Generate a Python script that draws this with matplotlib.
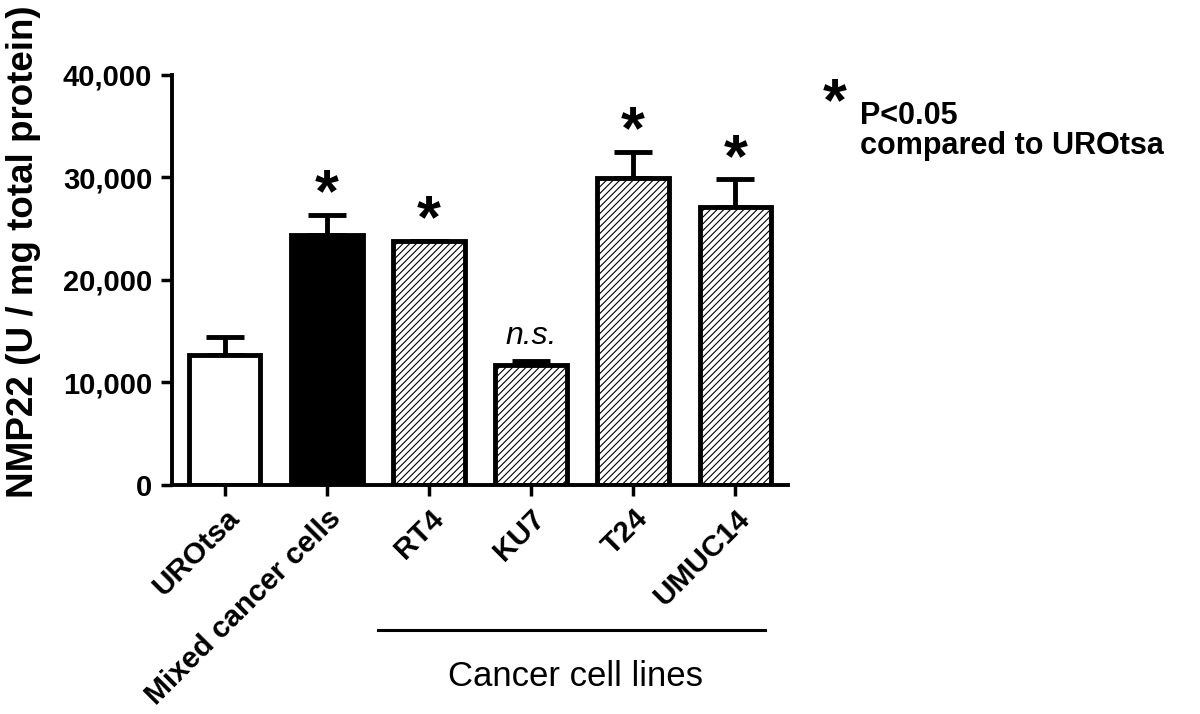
import matplotlib
matplotlib.use("Agg")
import matplotlib.pyplot as plt

plt.rcParams['font.family'] = ['Liberation Sans', 'DejaVu Sans']
plt.rcParams['hatch.linewidth'] = 0.8

# data
groups = ["UROtsa", "Mixed cancer cells", "RT4", "KU7", "T24", "UMUC14"]
means = [12700, 24400, 23800, 11700, 29900, 27100]
sem = [1700, 1900, 0, 400, 2600, 2700]
marks = ["", "*", "*", "n.s.", "*", "*"]
yticks = [0, 10000, 20000, 30000, 40000]

faces = ["white", "black", "white", "white", "white", "white"]
hatches = [None, None, "/////", "/////", "/////", "/////"]

fig = plt.figure(figsize=(12, 7.14), dpi=100)
ax = fig.add_axes([0.143, 0.321, 0.514, 0.574])

x = list(range(len(groups)))
ax.errorbar(x, means, yerr=[[0] * len(sem), sem], fmt="none", ecolor="black",
            elinewidth=3.5, capsize=14, capthick=3.5, zorder=1)
bars = ax.bar(x, means, width=0.7, color=faces, edgecolor="black",
              linewidth=3.5, zorder=2)
for b, h in zip(bars, hatches):
    if h:
        b.set_hatch(h)

for i, m in enumerate(marks):
    top = means[i] + sem[i]
    if m == "*":
        ax.text(i, top - 900, "*", ha="center", va="bottom", fontsize=44,
                fontweight="bold")
    elif m:
        ax.text(i, top + 1000, m, ha="center", va="bottom", fontsize=23,
                style="italic")

ax.set_xlim(-0.52, 5.52)
ax.set_ylim(0, 40000)
ax.set_yticks(yticks)
ax.set_yticklabels(["{:,}".format(v) for v in yticks], fontsize=21,
                   fontweight="bold")
ax.set_xticks(x)
ax.set_xticklabels(groups, rotation=45, ha="right", rotation_mode="anchor",
                   fontsize=21.5, fontweight="bold")
ax.tick_params(axis="both", direction="out", length=8, width=2.5, pad=6)
for s in ["top", "right"]:
    ax.spines[s].set_visible(False)
for s in ["left", "bottom"]:
    ax.spines[s].set_linewidth(2.8)

ax.set_ylabel("NMP22 (U / mg total protein)", fontsize=26.5, fontweight="bold",
              labelpad=16)
ax.yaxis.label.set_y(0.57)

# bracket for cancer cell lines
fig.add_artist(plt.Line2D([378 / 1200, 765 / 1200], [1 - 630 / 714, 1 - 630 / 714],
                          color="black", linewidth=2.2))
fig.text(576 / 1200, 1 - 676 / 714, "Cancer cell lines", ha="center",
         va="center", fontsize=25)

# significance note
fig.text(835 / 1200, 1 - 105 / 714, "*", ha="center", va="center", fontsize=44,
         fontweight="bold")
fig.text(860 / 1200, 1 - 116 / 714, "P<0.05", ha="left", va="center",
         fontsize=22, fontweight="bold")
fig.text(860 / 1200, 1 - 146 / 714, "compared to UROtsa", ha="left",
         va="center", fontsize=22, fontweight="bold")

fig.savefig("out.png", dpi=100, facecolor="white")
